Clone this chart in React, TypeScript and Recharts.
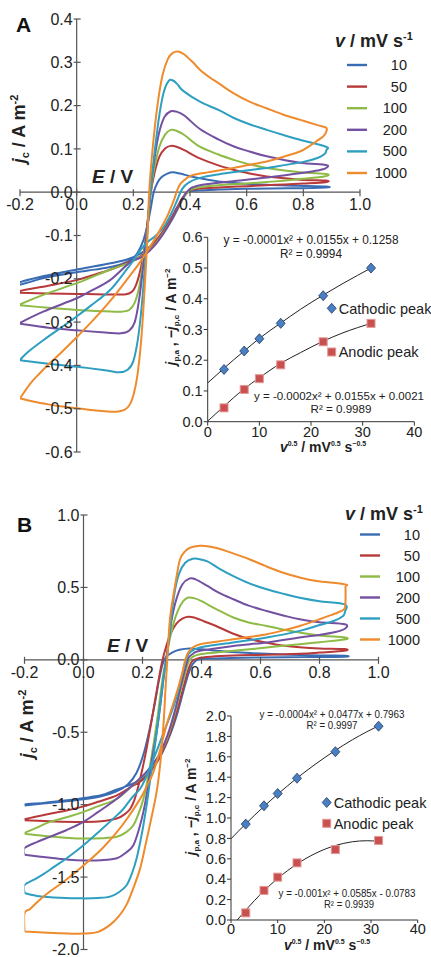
import React from 'react';
import {
  ComposedChart,
  Line,
  LineChart,
  ReferenceDot,
  ReferenceLine,
  Scatter,
  XAxis,
  YAxis
} from 'recharts';

type Pt = [number, number];

const scanRates = ['10', '50', '100', '200', '500', '1000'];
const rateColors = ['#3a6cb4', '#b8393a', '#8dbb45', '#7450a0', '#2e9fc1', '#ee8b2d'];

// Panel A voltammograms, [E / V, j / A m-2]: forward sweep, then reverse sweep
const cvA10: Pt[] = [
  [-0.2, -0.214], [-0.12, -0.199], [-0.04, -0.189], [0.04, -0.181], [0.1, -0.175], [0.15, -0.168],
  [0.19, -0.157], [0.215, -0.14], [0.235, -0.112], [0.25, -0.075], [0.262, -0.035], [0.272, 0],
  [0.285, 0.022], [0.3, 0.035], [0.32, 0.043], [0.34, 0.046], [0.365, 0.043], [0.4, 0.037],
  [0.435, 0.032], [0.5, 0.025], [0.553, 0.021], [0.671, 0.017], [0.78, 0.015], [0.88, 0.013],
  [0.878, 0.011], [0.75, 0.009], [0.6, 0.008], [0.5, 0.006], [0.43, 0.004], [0.395, 0.001],
  [0.375, -0.012], [0.355, -0.035], [0.33, -0.065], [0.3, -0.095], [0.265, -0.122], [0.225, -0.142],
  [0.18, -0.155], [0.12, -0.164], [0.04, -0.174], [-0.05, -0.185], [-0.13, -0.196], [-0.2, -0.208]
];
const cvA50: Pt[] = [
  [-0.2, -0.232], [-0.1, -0.234], [0, -0.235], [0.1, -0.236], [0.17, -0.236], [0.195, -0.23],
  [0.212, -0.21], [0.228, -0.17], [0.242, -0.115], [0.253, -0.055], [0.262, 0], [0.275, 0.045],
  [0.292, 0.082], [0.312, 0.101], [0.332, 0.107], [0.352, 0.105], [0.38, 0.097], [0.435, 0.078],
  [0.5, 0.062], [0.553, 0.052], [0.6, 0.045], [0.671, 0.036], [0.788, 0.029], [0.88, 0.027],
  [0.877, 0.023], [0.8, 0.02], [0.7, 0.017], [0.6, 0.014], [0.5, 0.011], [0.43, 0.008],
  [0.395, 0.003], [0.375, -0.012], [0.355, -0.035], [0.33, -0.065], [0.3, -0.095], [0.265, -0.125],
  [0.225, -0.148], [0.18, -0.163], [0.118, -0.179], [0.05, -0.193], [0, -0.203], [-0.1, -0.216],
  [-0.2, -0.228]
];
const cvA100: Pt[] = [
  [-0.2, -0.261], [-0.1, -0.267], [0, -0.272], [0.1, -0.275], [0.155, -0.276], [0.185, -0.272],
  [0.205, -0.255], [0.222, -0.215], [0.236, -0.15], [0.249, -0.08], [0.261, 0], [0.274, 0.055],
  [0.292, 0.105], [0.312, 0.133], [0.332, 0.144], [0.352, 0.142], [0.38, 0.132], [0.435, 0.105],
  [0.5, 0.087], [0.553, 0.075], [0.6, 0.066], [0.671, 0.056], [0.788, 0.046], [0.88, 0.042],
  [0.877, 0.037], [0.8, 0.031], [0.7, 0.025], [0.6, 0.02], [0.5, 0.016], [0.43, 0.011],
  [0.4, 0.005], [0.38, -0.01], [0.36, -0.035], [0.335, -0.065], [0.305, -0.095], [0.27, -0.125],
  [0.23, -0.148], [0.19, -0.162], [0.118, -0.179], [0.05, -0.197], [0, -0.21], [-0.118, -0.237],
  [-0.2, -0.259]
];
const cvA200: Pt[] = [
  [-0.2, -0.304], [-0.1, -0.313], [0, -0.319], [0.1, -0.324], [0.155, -0.326], [0.185, -0.32],
  [0.205, -0.3], [0.22, -0.25], [0.235, -0.17], [0.248, -0.085], [0.26, 0], [0.273, 0.07],
  [0.29, 0.135], [0.31, 0.174], [0.332, 0.187], [0.352, 0.186], [0.38, 0.177], [0.435, 0.146],
  [0.5, 0.122], [0.553, 0.106], [0.6, 0.096], [0.671, 0.083], [0.788, 0.068], [0.88, 0.063],
  [0.878, 0.055], [0.85, 0.05], [0.8, 0.045], [0.7, 0.036], [0.6, 0.029], [0.5, 0.022],
  [0.435, 0.016], [0.4, 0.008], [0.38, -0.008], [0.36, -0.033], [0.335, -0.065], [0.305, -0.097],
  [0.27, -0.127], [0.23, -0.15], [0.188, -0.162], [0.118, -0.203], [0.05, -0.228], [0, -0.245],
  [-0.118, -0.276], [-0.2, -0.302]
];
const cvA500: Pt[] = [
  [-0.2, -0.388], [-0.1, -0.396], [0, -0.403], [0.1, -0.411], [0.15, -0.416], [0.18, -0.41],
  [0.2, -0.39], [0.216, -0.34], [0.23, -0.26], [0.242, -0.16], [0.252, -0.07], [0.26, 0],
  [0.272, 0.075], [0.29, 0.17], [0.307, 0.23], [0.325, 0.257], [0.34, 0.258], [0.356, 0.249],
  [0.376, 0.234], [0.435, 0.209], [0.5, 0.19], [0.553, 0.172], [0.61, 0.157], [0.671, 0.144],
  [0.73, 0.132], [0.788, 0.121], [0.88, 0.105],
  [0.882, 0.098], [0.875, 0.088], [0.85, 0.079], [0.8, 0.07], [0.7, 0.059], [0.6, 0.05],
  [0.5, 0.041], [0.435, 0.033], [0.395, 0.022], [0.372, 0.007], [0.355, -0.018], [0.335, -0.048],
  [0.31, -0.078], [0.28, -0.1], [0.25, -0.115], [0.224, -0.135], [0.2, -0.158], [0.176, -0.179],
  [0.118, -0.226], [0.05, -0.262], [0, -0.287], [-0.06, -0.315], [-0.118, -0.342], [-0.17, -0.368],
  [-0.2, -0.387]
];
const cvA1000: Pt[] = [
  [-0.2, -0.476], [-0.15, -0.484], [-0.1, -0.49], [-0.05, -0.495], [0, -0.499], [0.05, -0.503],
  [0.1, -0.506], [0.14, -0.507], [0.17, -0.502], [0.188, -0.49], [0.202, -0.465], [0.215, -0.42],
  [0.228, -0.34], [0.24, -0.22], [0.25, -0.1], [0.256, 0], [0.268, 0.1], [0.285, 0.2],
  [0.303, 0.27], [0.322, 0.308], [0.34, 0.322], [0.358, 0.325], [0.38, 0.318], [0.41, 0.3],
  [0.435, 0.283], [0.47, 0.265], [0.5, 0.252], [0.55, 0.23], [0.61, 0.209], [0.67, 0.194],
  [0.73, 0.179], [0.79, 0.167], [0.85, 0.155], [0.88, 0.149],
  [0.882, 0.142], [0.872, 0.13], [0.847, 0.118], [0.82, 0.106], [0.788, 0.094], [0.73, 0.082],
  [0.671, 0.071], [0.6, 0.062], [0.553, 0.056], [0.5, 0.05], [0.435, 0.043], [0.4, 0.037],
  [0.38, 0.028], [0.365, 0.018], [0.355, 0.005], [0.345, -0.015], [0.333, -0.035], [0.318, -0.058],
  [0.29, -0.092], [0.259, -0.126], [0.22, -0.165], [0.176, -0.203], [0.12, -0.25], [0.059, -0.295],
  [0, -0.335], [-0.059, -0.373], [-0.1, -0.398], [-0.13, -0.418], [-0.165, -0.443], [-0.2, -0.476]
];

// Panel B voltammograms
const cvB10: Pt[] = [
  [-0.2, -1.005], [-0.1, -0.985], [0, -0.962], [0.06, -0.942], [0.11, -0.91], [0.15, -0.86],
  [0.18, -0.78], [0.205, -0.64], [0.225, -0.47], [0.242, -0.3], [0.256, -0.14], [0.268, -0.03],
  [0.28, 0.02], [0.3, 0.05], [0.325, 0.07], [0.36, 0.079], [0.4, 0.073], [0.45, 0.063],
  [0.5, 0.054], [0.6, 0.043], [0.7, 0.035], [0.8, 0.03], [0.886, 0.028],
  [0.884, 0.022], [0.75, 0.019], [0.6, 0.016], [0.5, 0.013], [0.43, 0.009], [0.39, 0.004],
  [0.37, -0.03], [0.355, -0.1], [0.338, -0.22], [0.318, -0.37], [0.295, -0.51], [0.265, -0.65],
  [0.23, -0.76], [0.19, -0.83], [0.146, -0.872], [0.1, -0.905], [0.056, -0.936], [-0.057, -0.97],
  [-0.13, -0.986], [-0.2, -0.998]
];
const cvB50: Pt[] = [
  [-0.2, -1.108], [-0.1, -1.116], [0, -1.119], [0.06, -1.115], [0.113, -1.096], [0.14, -1.065],
  [0.158, -1.03], [0.172, -0.97], [0.185, -0.88], [0.2, -0.75], [0.215, -0.6], [0.23, -0.43],
  [0.245, -0.25], [0.258, -0.1], [0.268, 0], [0.28, 0.09], [0.295, 0.18], [0.315, 0.25],
  [0.335, 0.285], [0.355, 0.298], [0.375, 0.292], [0.41, 0.265], [0.451, 0.232], [0.508, 0.18],
  [0.56, 0.145], [0.621, 0.118], [0.68, 0.098], [0.733, 0.087], [0.8, 0.079], [0.886, 0.074],
  [0.884, 0.062], [0.8, 0.05], [0.733, 0.042], [0.62, 0.035], [0.508, 0.03], [0.43, 0.022],
  [0.39, 0.012], [0.368, -0.01], [0.355, -0.07], [0.34, -0.18], [0.32, -0.33], [0.296, -0.49],
  [0.268, -0.63], [0.235, -0.75], [0.2, -0.83], [0.16, -0.878], [0.113, -0.936], [0.05, -0.98],
  [0, -1.012], [-0.057, -1.04], [-0.114, -1.062], [-0.2, -1.1]
];
const cvB100: Pt[] = [
  [-0.2, -1.2], [-0.12, -1.218], [-0.05, -1.23], [0, -1.234], [0.06, -1.232], [0.113, -1.222],
  [0.145, -1.19], [0.169, -1.142], [0.187, -1.06], [0.203, -0.96], [0.215, -0.85], [0.228, -0.7],
  [0.24, -0.55], [0.252, -0.38], [0.262, -0.22], [0.272, -0.08], [0.28, 0], [0.29, 0.12],
  [0.305, 0.25], [0.32, 0.34], [0.338, 0.405], [0.355, 0.43], [0.375, 0.426], [0.4, 0.405],
  [0.45, 0.35], [0.508, 0.292], [0.56, 0.258], [0.621, 0.234], [0.68, 0.208], [0.733, 0.188],
  [0.8, 0.168], [0.886, 0.154],
  [0.884, 0.14], [0.8, 0.122], [0.733, 0.108], [0.62, 0.085], [0.508, 0.062], [0.45, 0.05],
  [0.395, 0.038], [0.37, 0.02], [0.355, -0.02], [0.344, -0.1], [0.328, -0.22], [0.308, -0.38],
  [0.282, -0.55], [0.25, -0.68], [0.212, -0.78], [0.17, -0.86], [0.113, -0.959], [0.05, -1.01],
  [0, -1.05], [-0.057, -1.087], [-0.114, -1.119], [-0.16, -1.16], [-0.2, -1.195]
];
const cvB200: Pt[] = [
  [-0.2, -1.345], [-0.12, -1.365], [-0.05, -1.38], [0, -1.385], [0.06, -1.383], [0.113, -1.37],
  [0.145, -1.33], [0.169, -1.28], [0.188, -1.17], [0.203, -1.05], [0.215, -0.92], [0.225, -0.775],
  [0.237, -0.63], [0.248, -0.5], [0.26, -0.32], [0.27, -0.15], [0.28, 0], [0.29, 0.15],
  [0.3, 0.29], [0.315, 0.42], [0.335, 0.52], [0.36, 0.562], [0.38, 0.556], [0.42, 0.51],
  [0.46, 0.462], [0.508, 0.418], [0.56, 0.374], [0.621, 0.337], [0.68, 0.305], [0.733, 0.28],
  [0.8, 0.26], [0.886, 0.246],
  [0.886, 0.215], [0.85, 0.19], [0.8, 0.172], [0.733, 0.154], [0.621, 0.12], [0.508, 0.096],
  [0.395, 0.062], [0.37, 0.04], [0.355, 0.01], [0.345, -0.06], [0.33, -0.18], [0.31, -0.35],
  [0.285, -0.52], [0.255, -0.66], [0.215, -0.77], [0.169, -0.86], [0.113, -0.959], [0.05, -1.05],
  [0, -1.119], [-0.057, -1.175], [-0.114, -1.222], [-0.16, -1.26], [-0.2, -1.3]
];
const cvB500: Pt[] = [
  [-0.2, -1.61], [-0.15, -1.632], [-0.08, -1.643], [0, -1.647], [0.05, -1.644], [0.09, -1.635],
  [0.12, -1.605], [0.146, -1.556], [0.165, -1.47], [0.18, -1.372], [0.193, -1.25], [0.203, -1.142],
  [0.215, -0.99], [0.225, -0.844], [0.237, -0.67], [0.248, -0.5], [0.262, -0.28], [0.274, -0.08],
  [0.282, 0], [0.29, 0.15], [0.3, 0.33], [0.31, 0.48], [0.325, 0.6], [0.345, 0.67],
  [0.37, 0.698], [0.39, 0.696], [0.42, 0.68], [0.46, 0.63], [0.508, 0.578], [0.56, 0.53],
  [0.621, 0.487], [0.68, 0.455], [0.733, 0.429], [0.8, 0.405], [0.886, 0.383],
  [0.886, 0.33], [0.88, 0.303], [0.85, 0.27], [0.8, 0.24], [0.733, 0.2], [0.621, 0.154],
  [0.508, 0.12], [0.395, 0.085], [0.361, 0.051], [0.35, 0.015], [0.342, -0.04], [0.33, -0.14],
  [0.315, -0.26], [0.295, -0.38], [0.272, -0.5], [0.25, -0.62], [0.228, -0.73], [0.21, -0.82],
  [0.192, -0.89], [0.165, -0.95], [0.135, -1.03], [0.113, -1.074], [0.056, -1.18], [0, -1.28],
  [-0.057, -1.37], [-0.1, -1.43], [-0.136, -1.48], [-0.17, -1.52], [-0.2, -1.556]
];
const cvB1000: Pt[] = [
  [-0.2, -1.876], [-0.12, -1.885], [-0.05, -1.89], [0, -1.89], [0.05, -1.878], [0.09, -1.83],
  [0.12, -1.77], [0.146, -1.69], [0.17, -1.57], [0.192, -1.44], [0.21, -1.28], [0.225, -1.14],
  [0.248, -0.91], [0.262, -0.68], [0.272, -0.42], [0.278, -0.2], [0.284, 0],
  [0.293, 0.28], [0.31, 0.509], [0.327, 0.693], [0.345, 0.75], [0.361, 0.774], [0.395, 0.787],
  [0.42, 0.785], [0.451, 0.772], [0.5, 0.74], [0.564, 0.693], [0.62, 0.645], [0.677, 0.601],
  [0.73, 0.57], [0.79, 0.544], [0.886, 0.521],
  [0.888, 0.5], [0.888, 0.4], [0.884, 0.35], [0.86, 0.325], [0.847, 0.315], [0.8, 0.28],
  [0.733, 0.234], [0.68, 0.205], [0.621, 0.177], [0.56, 0.158], [0.508, 0.142], [0.45, 0.125],
  [0.395, 0.108], [0.37, 0.085], [0.355, 0.05], [0.345, 0], [0.335, -0.09], [0.32, -0.2],
  [0.3, -0.33], [0.28, -0.46], [0.26, -0.62], [0.237, -0.775], [0.215, -0.87], [0.192, -0.96],
  [0.15, -1.09], [0.113, -1.19], [0.06, -1.31], [0, -1.42], [-0.06, -1.52], [-0.114, -1.6],
  [-0.15, -1.66], [-0.181, -1.72], [-0.2, -1.75]
];

const potentialTicks = [-0.2, 0, 0.2, 0.4, 0.6, 0.8, 1.0];
const currentTicksA = [-0.6, -0.5, -0.4, -0.3, -0.2, -0.1, 0, 0.1, 0.2, 0.3, 0.4];
const currentTicksB = [-2, -1.5, -1, -0.5, 0, 0.5, 1];

// Peak currents against square root of scan rate
const sqrtRate = [3.16, 7.07, 10, 14.14, 22.36, 31.62];
const cathodicPeakA = [0.17, 0.23, 0.27, 0.32, 0.41, 0.5];
const anodicPeakA = [0.045, 0.105, 0.14, 0.185, 0.26, 0.32];
const cathodicPeakB = [0.94, 1.12, 1.24, 1.39, 1.65, 1.9];
const anodicPeakB = [0.07, 0.29, 0.42, 0.56, 0.69, 0.78];

// Quadratic trendlines
const fitCathodicA: Pt[] = [
  [0, 0.126], [3.16, 0.174], [5, 0.201], [7.07, 0.23], [10, 0.271], [14.14, 0.321],
  [18, 0.366], [22.36, 0.412], [26, 0.448], [29, 0.476], [31.62, 0.5]
];
const fitAnodicA: Pt[] = [
  [0, 0.002], [3.16, 0.05], [5, 0.078], [7.07, 0.107], [10, 0.143], [14.14, 0.19],
  [18, 0.225], [22.36, 0.262], [26, 0.288], [29, 0.306], [31.62, 0.32]
];
const fitCathodicB: Pt[] = [
  [0, 0.796], [3.16, 0.943], [5, 1.025], [7.07, 1.114], [10, 1.233], [14.14, 1.391],
  [18, 1.525], [22.36, 1.663], [26, 1.767], [29, 1.843], [31.62, 1.904]
];
const fitAnodicB: Pt[] = [
  [1.34, 0], [3.16, 0.097], [5, 0.189], [7.07, 0.286], [10, 0.407], [14.14, 0.549],
  [18, 0.651], [22.36, 0.73], [26, 0.767], [29, 0.777], [31.62, 0.772]
];

const insetTicksX = [0, 10, 20, 30, 40];
const insetTicksA = [0, 0.1, 0.2, 0.3, 0.4, 0.5, 0.6];
const insetTicksB = [0, 0.2, 0.4, 0.6, 0.8, 1.0, 1.2, 1.4, 1.6, 1.8, 2.0];

const FONT = "'Liberation Sans', Arial, Helvetica, sans-serif";
const AXIS = '#555';
const INK = '#222';

const toCv = (pts: Pt[]) => [...pts, pts[0]].map(([E, j]) => ({ E, j }));
const toXY = (pts: Pt[]) => pts.map(([x, y]) => ({ x, y }));

// Catmull-Rom spline through the sampled points (d3 curve-factory shape)
function smoothLoop(context: any) {
  let pts: number[][] = [];
  return {
    areaStart() {},
    areaEnd() {},
    lineStart() {
      pts = [];
    },
    point(x: number, y: number) {
      pts.push([x, y]);
    },
    lineEnd() {
      const n = pts.length;
      if (!n) return;
      context.moveTo(pts[0][0], pts[0][1]);
      for (let i = 0; i < n - 1; i++) {
        const p0 = pts[Math.max(i - 1, 0)];
        const p1 = pts[i];
        const p2 = pts[i + 1];
        const p3 = pts[Math.min(i + 2, n - 1)];
        context.bezierCurveTo(
          p1[0] + (p2[0] - p0[0]) / 6,
          p1[1] + (p2[1] - p0[1]) / 6,
          p2[0] - (p3[0] - p1[0]) / 6,
          p2[1] - (p3[1] - p1[1]) / 6,
          p2[0],
          p2[1]
        );
      }
    }
  };
}

function Diamond({ cx, cy }: any) {
  return (
    <polygon
      points={`${cx},${cy - 5} ${cx + 4.5},${cy} ${cx},${cy + 5} ${cx - 4.5},${cy}`}
      fill="#4a7fc1"
      stroke="#1e3a66"
      strokeWidth={0.8}
    />
  );
}

function Square({ cx, cy }: any) {
  return <rect x={cx - 4} y={cy - 4} width={8} height={8} fill="#c8504e" stroke="#e39a98" strokeWidth={1} />;
}

function XTick({ cx, cy, label }: any) {
  return (
    <g>
      <line x1={cx} x2={cx} y1={cy - 3} y2={cy + 4} stroke={AXIS} strokeWidth={1.2} />
      <text x={cx} y={cy + 18} textAnchor="middle" fontSize={16} fill={INK}>{label}</text>
    </g>
  );
}

function YTick({ cx, cy, label }: any) {
  return (
    <g>
      <line x1={cx - 3} x2={cx + 4} y1={cy} y2={cy} stroke={AXIS} strokeWidth={1.2} />
      <text x={cx - 4} y={cy} dy="0.35em" textAnchor="end" fontSize={16} fill={INK}>{label}</text>
    </g>
  );
}

function CvPanel({ curves, top, height, margin, yDomain, yTicks }: any) {
  return (
    <div style={{ position: 'absolute', left: 0, top }}>
      <LineChart width={431} height={height} margin={margin}>
        <XAxis type="number" dataKey="E" domain={[-0.2, 1]} allowDataOverflow hide />
        <YAxis type="number" dataKey="j" domain={yDomain} allowDataOverflow hide />
        <ReferenceLine y={0} stroke={AXIS} strokeWidth={1.2} />
        <ReferenceLine x={0} stroke={AXIS} strokeWidth={1.2} />
        {curves.map((c: Pt[], i: number) => (
          <Line
            key={scanRates[i]}
            data={toCv(c)}
            dataKey="j"
            type={smoothLoop as any}
            stroke={rateColors[i]}
            strokeWidth={2}
            dot={false}
            isAnimationActive={false}
          />
        ))}
        {potentialTicks.map((t) => (
          <ReferenceDot key={`x${t}`} x={t} y={0} r={0} shape={(p: any) => <XTick cx={p.cx} cy={p.cy} label={t.toFixed(1)} />} />
        ))}
        {yTicks.map((t: number) => (
          <ReferenceDot key={`y${t}`} x={0} y={t} r={0} shape={(p: any) => <YTick cx={p.cx} cy={p.cy} label={t.toFixed(1)} />} />
        ))}
      </LineChart>
    </div>
  );
}

function PeakInset({ left, top, width, height, margin, yDomain, yTicks, cathodic, anodic, fitC, fitA, tickSize }: any) {
  const tickStyle = { fontSize: 14.5, fill: INK };
  return (
    <div style={{ position: 'absolute', left, top }}>
      <ComposedChart width={width} height={height} margin={margin}>
        <XAxis
          type="number"
          dataKey="x"
          domain={[0, 40]}
          ticks={insetTicksX}
          interval={0}
          allowDataOverflow
          height={30}
          tickSize={tickSize}
          tickMargin={1}
          stroke="#333"
          tick={tickStyle}
        />
        <YAxis
          type="number"
          dataKey="y"
          domain={yDomain}
          ticks={yTicks}
          interval={0}
          allowDataOverflow
          width={40}
          tickSize={4}
          tickMargin={1}
          stroke="#333"
          tick={tickStyle}
          tickFormatter={(v: number) => v.toFixed(1)}
        />
        <Line data={toXY(fitC)} dataKey="y" type="monotone" stroke={INK} strokeWidth={1} dot={false} isAnimationActive={false} />
        <Line data={toXY(fitA)} dataKey="y" type="monotone" stroke={INK} strokeWidth={1} dot={false} isAnimationActive={false} />
        <Scatter data={sqrtRate.map((x, i) => ({ x, y: cathodic[i] }))} shape={Diamond} isAnimationActive={false} />
        <Scatter data={sqrtRate.map((x, i) => ({ x, y: anodic[i] }))} shape={Square} isAnimationActive={false} />
      </ComposedChart>
    </div>
  );
}

function RateLegend({ x, titleY, lineX, labelX, firstY, step }: any) {
  return (
    <g>
      <text x={x} y={titleY} fontSize={18} fontWeight="bold" fill={INK}>
        <tspan fontStyle="italic">v</tspan> / mV s<tspan fontSize={11} dy={-7}>-1</tspan>
      </text>
      {scanRates.map((r, i) => (
        <g key={r}>
          <line x1={lineX} x2={lineX + 20} y1={firstY + i * step} y2={firstY + i * step} stroke={rateColors[i]} strokeWidth={2.4} />
          <text x={labelX} y={firstY + i * step} dy="0.35em" textAnchor="end" fontSize={14.5} fill={INK}>{r}</text>
        </g>
      ))}
    </g>
  );
}

function CurrentLabel({ x, y }: any) {
  return (
    <text transform={`translate(${x},${y}) rotate(-90)`} textAnchor="middle" fontSize={18} fontWeight="bold" fill={INK}>
      <tspan fontStyle="italic">j</tspan>
      <tspan fontSize={11} dy={4}>c</tspan>
      <tspan dy={-4}> / A m</tspan>
      <tspan fontSize={11} dy={-7}>-2</tspan>
    </text>
  );
}

function PeakAxisLabels({ xCenter, xBase, yX, yCenter }: any) {
  return (
    <g fontWeight="bold" fill={INK}>
      <text x={xCenter} y={xBase} textAnchor="middle" fontSize={14}>
        <tspan fontStyle="italic">v</tspan>
        <tspan fontSize={7} dy={-6}>0.5</tspan>
        <tspan dy={6}> / mV</tspan>
        <tspan fontSize={7} dy={-6}>0.5</tspan>
        <tspan dy={6}> s</tspan>
        <tspan fontSize={7} dy={-6}>−0.5</tspan>
      </text>
      <text transform={`translate(${yX},${yCenter}) rotate(-90)`} textAnchor="middle" fontSize={14}>
        <tspan fontStyle="italic">j</tspan>
        <tspan fontSize={8} dy={3}>p,a</tspan>
        <tspan dy={-3}> ,  −</tspan>
        <tspan fontStyle="italic">j</tspan>
        <tspan fontSize={8} dy={3}>p,c</tspan>
        <tspan dy={-3}> / A m</tspan>
        <tspan fontSize={8} dy={-6}>−2</tspan>
      </text>
    </g>
  );
}

function PeakLegend({ x, yC, yA }: any) {
  return (
    <g>
      <Diamond cx={x} cy={yC} />
      <text x={x + 7} y={yC} dy="0.36em" fontSize={14.5} fill={INK}>Cathodic peak</text>
      <Square cx={x} cy={yA} />
      <text x={x + 7} y={yA} dy="0.36em" fontSize={14.5} fill={INK}>Anodic peak</text>
    </g>
  );
}

function Equation({ x, y, size, width, children }: any) {
  return (
    <text x={x} y={y} textAnchor="middle" fontSize={size} fill={INK} textLength={width} lengthAdjust="spacingAndGlyphs">
      {children}
    </text>
  );
}

export default function App() {
  return (
    <div style={{ position: 'absolute', left: 0, top: 0, width: 431, height: 957, background: '#fff', fontFamily: FONT }}>
      <CvPanel
        curves={[cvA10, cvA50, cvA100, cvA200, cvA500, cvA1000]}
        top={0}
        height={470}
        margin={{ top: 19, right: 71, bottom: 18, left: 20 }}
        yDomain={[-0.6, 0.4]}
        yTicks={currentTicksA}
      />
      <CvPanel
        curves={[cvB10, cvB50, cvB100, cvB200, cvB500, cvB1000]}
        top={470}
        height={487}
        margin={{ top: 45, right: 52.5, bottom: 7.5, left: 24.5 }}
        yDomain={[-2, 1]}
        yTicks={currentTicksB}
      />
      <PeakInset
        left={167}
        top={227}
        width={257}
        height={227}
        margin={{ top: 10.3, right: 9.7, bottom: 2.3, left: 0.7 }}
        yDomain={[0, 0.6]}
        yTicks={insetTicksA}
        cathodic={cathodicPeakA}
        anodic={anodicPeakA}
        fitC={fitCathodicA}
        fitA={fitAnodicA}
        tickSize={4}
      />
      <PeakInset
        left={191}
        top={706}
        width={236}
        height={250}
        margin={{ top: 10, right: 9.3, bottom: 6, left: 0 }}
        yDomain={[0, 2]}
        yTicks={insetTicksB}
        cathodic={cathodicPeakB}
        anodic={anodicPeakB}
        fitC={fitCathodicB}
        fitA={fitAnodicB}
        tickSize={3}
      />
      <svg width={431} height={957} style={{ position: 'absolute', left: 0, top: 0, pointerEvents: 'none' }}>
        <text x={16} y={32} fontSize={21} fontWeight="bold" fill="#111">A</text>
        <text x={17} y={532} fontSize={21} fontWeight="bold" fill="#111">B</text>

        <text x={92} y={183} fontSize={19} fontWeight="bold" fill={INK}>
          <tspan fontStyle="italic">E</tspan> / V
        </text>
        <text x={107} y={652} fontSize={19} fontWeight="bold" fill={INK}>
          <tspan fontStyle="italic">E</tspan> / V
        </text>

        <CurrentLabel x={25} y={129} />
        <CurrentLabel x={33} y={724} />

        <RateLegend x={335} titleY={47} lineX={347} labelX={407} firstY={65} step={21.6} />
        <RateLegend x={345} titleY={520} lineX={360} labelX={420} firstY={534.5} step={21} />

        <Equation x={311} y={244} size={12} width={175}>y = -0.0001x² + 0.0155x + 0.1258</Equation>
        <Equation x={311} y={258} size={12} width={62}>R² = 0.9994</Equation>
        <Equation x={339} y={400} size={11.3} width={170}>y = -0.0002x² + 0.0155x + 0.0021</Equation>
        <Equation x={341} y={413} size={11.3} width={61}>R² = 0.9989</Equation>
        <Equation x={332} y={718} size={10.5} width={145}>y = -0.0004x² + 0.0477x + 0.7963</Equation>
        <Equation x={332} y={728.5} size={10.5} width={51}>R² = 0.9997</Equation>
        <Equation x={347} y={897} size={10} width={137}>y = -0.001x² + 0.0585x - 0.0783</Equation>
        <Equation x={349} y={908} size={10} width={50}>R² = 0.9939</Equation>

        <PeakLegend x={331.7} yC={308.3} yA={352} />
        <PeakLegend x={326.7} yC={802.5} yA={823.3} />

        <PeakAxisLabels xCenter={323} xBase={451.5} yX={176} yCenter={317} />
        <PeakAxisLabels xCenter={327} xBase={950} yX={196} yCenter={807} />
      </svg>
    </div>
  );
}
